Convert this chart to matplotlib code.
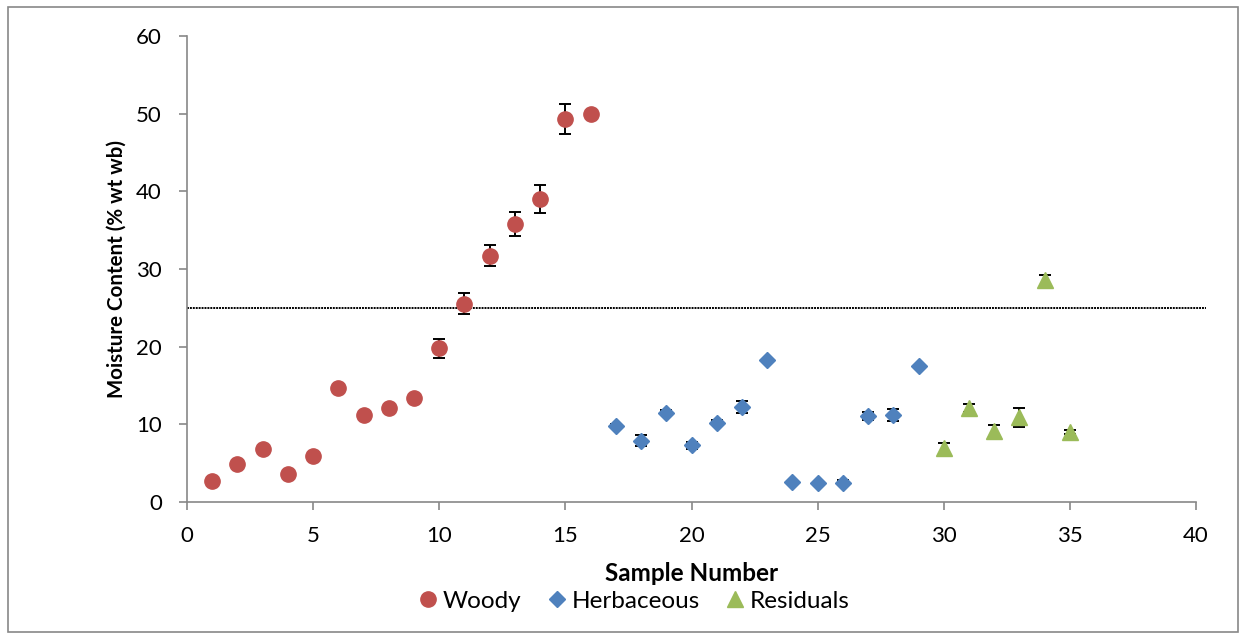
import matplotlib
matplotlib.use("Agg")
import matplotlib.pyplot as plt
from matplotlib.patches import Rectangle
from matplotlib.lines import Line2D

plt.rcParams['font.family'] = ['Lato', 'DejaVu Sans']

# Woody samples
woody_x = [1, 2, 3, 4, 5, 6, 7, 8, 9, 10, 11, 12, 13, 14, 15, 16]
woody_y = [2.7, 4.9, 6.8, 3.6, 5.9, 14.7, 11.2, 12.1, 13.4, 19.8, 25.5, 31.7, 35.8, 39.0, 49.3, 50.0]
woody_err = [0.1, 0.1, 0.1, 0.1, 0.1, 0.2, 0.1, 0.1, 0.2, 1.2, 1.35, 1.35, 1.6, 1.85, 1.9, 0.2]

# Herbaceous samples
herb_x = [17, 18, 19, 20, 21, 22, 23, 24, 25, 26, 27, 28, 29]
herb_y = [9.8, 7.9, 11.5, 7.3, 10.2, 12.2, 18.3, 2.6, 2.4, 2.5, 11.1, 11.2, 17.5]
herb_err = [0.3, 0.7, 0.3, 0.45, 0.3, 0.75, 0.1, 0.1, 0.2, 0.3, 0.5, 0.8, 0.1]

# Agricultural residuals
resid_x = [30, 31, 32, 33, 34, 35]
resid_y = [6.9, 12.1, 9.2, 10.9, 28.6, 9.0]
resid_err = [0.75, 0.55, 0.7, 1.2, 0.6, 0.25]

# Reference moisture threshold
threshold = 25

x_ticks = [0, 5, 10, 15, 20, 25, 30, 35, 40]
y_ticks = [0, 10, 20, 30, 40, 50, 60]

fig = plt.figure(figsize=(12.41, 6.37), dpi=100)
ax = fig.add_axes([187 / 1241, 1 - 502 / 637, (1196 - 187) / 1241, (502 - 36) / 637])

# Chart area border
fig.patches.append(Rectangle((8 / 1241, 1 - 632 / 637), (1238 - 8) / 1241, (632 - 7) / 637,
                             transform=fig.transFigure, fill=False, edgecolor='#888888',
                             linewidth=1.2))

grey = '#888888'
err_kw = dict(fmt='none', ecolor='black', elinewidth=1.4, capsize=4, capthick=1.4, zorder=2)

ax.errorbar(woody_x, woody_y, yerr=woody_err, **err_kw)
ax.errorbar(herb_x, herb_y, yerr=herb_err, **err_kw)
ax.errorbar(resid_x, resid_y, yerr=resid_err, **err_kw)

ax.plot(woody_x, woody_y, linestyle='none', marker='o', markersize=11,
        color='#C0504D', markeredgecolor='#C0504D', label='Woody', zorder=3)
ax.plot(herb_x, herb_y, linestyle='none', marker='D', markersize=8.5,
        color='#4F81BD', markeredgecolor='#4F81BD', label='Herbaceous', zorder=3)
ax.plot(resid_x, resid_y, linestyle='none', marker='^', markersize=11,
        color='#9BBB59', markeredgecolor='#9BBB59', label='Residuals', zorder=3)

ax.plot([0, 40.4], [threshold, threshold], color='black', linewidth=1.4,
        linestyle=(0, (1, 0.5)), clip_on=False, zorder=1)

ax.set_xlim(0, 40)
ax.set_ylim(0, 60)
ax.set_xticks(x_ticks)
ax.set_yticks(y_ticks)
ax.tick_params(axis='both', direction='out', length=6, width=1.2, color=grey,
               labelsize=16)
ax.tick_params(axis='x', pad=11)
ax.tick_params(axis='y', pad=12)

for side in ('top', 'right'):
    ax.spines[side].set_visible(False)
for side in ('left', 'bottom'):
    ax.spines[side].set_color(grey)
    ax.spines[side].set_linewidth(1.2)

ax.set_xlabel('Sample Number', fontsize=17.5, fontweight='bold', labelpad=12)
ax.set_ylabel('Moisture Content (% wt wb)', fontsize=14.8, fontweight='bold', labelpad=7)

handles = [
    Line2D([], [], linestyle='none', marker='o', markersize=11, color='#C0504D'),
    Line2D([], [], linestyle='none', marker='D', markersize=8.5, color='#4F81BD'),
    Line2D([], [], linestyle='none', marker='^', markersize=11, color='#9BBB59'),
]
fig.legend(handles, ['Woody', 'Herbaceous', 'Residuals'], loc='center',
           bbox_to_anchor=(634 / 1241, 1 - 601 / 637), ncol=3, frameon=False,
           fontsize=17.5, handletextpad=0.2, columnspacing=1.05, handlelength=0.8,
           borderpad=0, borderaxespad=0)

fig.savefig('out.png', dpi=100)
